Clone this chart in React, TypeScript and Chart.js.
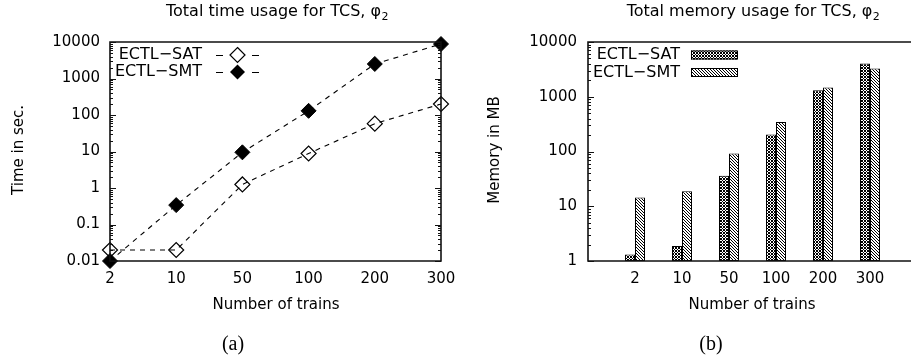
import React, { useEffect, useRef } from 'react';
import { Chart, registerables } from 'chart.js';

Chart.register(...registerables);

// ---------- data ----------
const trainCounts = ['2', '10', '50', '100', '200', '300'];
const seriesNames = ['ECTL\u2212SAT', 'ECTL\u2212SMT'];

const timeSAT = [0.02, 0.02, 1.25, 8.8, 58, 200];
const timeSMT = [0.01, 0.34, 9.5, 130, 2500, 8800];
const timeTicks = [0.01, 0.1, 1, 10, 100, 1000, 10000];
const timeTickLabels = ['0.01', '0.1', '1', '10', '100', '1000', '10000'];

const memSAT = [1.32, 1.88, 36, 205, 1320, 4050];
const memSMT = [14.5, 18.7, 92, 344, 1480, 3280];
const memTicks = [1, 10, 100, 1000, 10000];
const memTickLabels = ['1', '10', '100', '1000', '10000'];

const FONT = '"DejaVu Sans", "Liberation Sans", sans-serif';
const SERIF = '"Liberation Serif", "DejaVu Serif", serif';

type Deco = {
  title: string;
  titleX: number;
  yTitle: string;
  yTitleX: number;
  xTitleX: number;
  caption: string;
  captionX: number;
  ticks: number[];
  rightBorder: boolean;
  legend: (ctx: CanvasRenderingContext2D) => void;
};

function makePattern(ctx: CanvasRenderingContext2D, kind: 'cross' | 'diag') {
  const n = 3;
  const c = document.createElement('canvas');
  c.width = n;
  c.height = n;
  const g = c.getContext('2d')!;
  g.fillStyle = '#fff';
  g.fillRect(0, 0, n, n);
  g.fillStyle = '#000';
  for (let x = 0; x < n; x++) {
    for (let y = 0; y < n; y++) {
      const d1 = (((x - y) % n) + n) % n;
      const d2 = (x + y) % n;
      const on = kind === 'cross' ? d1 === 0 || d2 === 0 : d1 === 0;
      if (on) g.fillRect(x, y, 1, 1);
    }
  }
  return ctx.createPattern(c, 'repeat')!;
}

function drawDiamond(ctx: CanvasRenderingContext2D, x: number, y: number, r: number, filled: boolean) {
  ctx.beginPath();
  ctx.moveTo(x, y - r);
  ctx.lineTo(x + r, y);
  ctx.lineTo(x, y + r);
  ctx.lineTo(x - r, y);
  ctx.closePath();
  if (filled) {
    ctx.fillStyle = '#000';
    ctx.fill();
  } else {
    ctx.strokeStyle = '#000';
    ctx.lineWidth = 1.2;
    ctx.stroke();
  }
}

function decoPlugin(d: Deco) {
  return {
    id: 'deco',
    afterDatasetsDraw(chart: any) {
      const ctx: CanvasRenderingContext2D = chart.ctx;
      const a = chart.chartArea;
      const ys = chart.scales.y;
      ctx.save();
      // border
      ctx.strokeStyle = '#111';
      ctx.lineWidth = 1.6;
      ctx.setLineDash([]);
      ctx.beginPath();
      ctx.moveTo(a.left, a.top);
      ctx.lineTo(a.left, a.bottom);
      ctx.moveTo(a.left - 0.8, a.bottom);
      ctx.lineTo(a.right + 0.8, a.bottom);
      ctx.moveTo(a.left - 0.8, a.top);
      ctx.lineTo(a.right + 0.8, a.top);
      if (d.rightBorder) {
        ctx.moveTo(a.right, a.top);
        ctx.lineTo(a.right, a.bottom);
      }
      ctx.stroke();
      // ticks (inward), major and minor
      ctx.lineWidth = 1;
      ctx.beginPath();
      for (let i = 0; i < d.ticks.length; i++) {
        const v = d.ticks[i];
        const py = Math.round(ys.getPixelForValue(v)) + 0.5;
        ctx.moveTo(a.left, py);
        ctx.lineTo(a.left + 6, py);
        if (d.rightBorder) {
          ctx.moveTo(a.right, py);
          ctx.lineTo(a.right - 6, py);
        }
        if (i < d.ticks.length - 1) {
          for (let m = 2; m <= 9; m++) {
            const my = Math.round(ys.getPixelForValue(v * m)) + 0.5;
            ctx.moveTo(a.left, my);
            ctx.lineTo(a.left + 3, my);
            if (d.rightBorder) {
              ctx.moveTo(a.right, my);
              ctx.lineTo(a.right - 3, my);
            }
          }
        }
      }
      ctx.stroke();
      // title with subscript
      ctx.fillStyle = '#000';
      ctx.textBaseline = 'middle';
      ctx.textAlign = 'left';
      ctx.font = `16px ${FONT}`;
      const main = d.title;
      const wMain = ctx.measureText(main).width;
      ctx.font = `11px ${FONT}`;
      const wSub = ctx.measureText('2').width;
      const x0 = d.titleX - (wMain + wSub) / 2;
      ctx.font = `16px ${FONT}`;
      ctx.fillText(main, x0, 12);
      ctx.font = `11px ${FONT}`;
      ctx.fillText('2', x0 + wMain + 0.5, 17);
      // x title
      ctx.font = `15px ${FONT}`;
      ctx.textAlign = 'center';
      ctx.fillText('Number of trains', d.xTitleX, 305);
      // y title
      ctx.save();
      ctx.translate(d.yTitleX, 150);
      ctx.rotate(-Math.PI / 2);
      ctx.fillText(d.yTitle, 0, 0);
      ctx.restore();
      // caption
      ctx.font = `20px ${SERIF}`;
      ctx.fillText(d.caption, d.captionX, 345);
      // legend
      d.legend(ctx);
      ctx.restore();
    },
  };
}

function TimeChart() {
  const ref = useRef<HTMLCanvasElement>(null);
  useEffect(() => {
    const canvas = ref.current!;
    const deco: Deco = {
      title: 'Total time usage for TCS, \u03c6',
      titleX: 277,
      yTitle: 'Time in sec.',
      yTitleX: 19,
      xTitleX: 276,
      caption: '(a)',
      captionX: 233,
      ticks: timeTicks,
      rightBorder: true,
      legend: (ctx) => {
        ctx.font = `16px ${FONT}`;
        ctx.textAlign = 'right';
        ctx.textBaseline = 'middle';
        ctx.fillStyle = '#000';
        const rows = [55, 72];
        rows.forEach((ry, i) => {
          ctx.fillStyle = '#000';
          ctx.fillText(seriesNames[i], 202, ry);
          ctx.strokeStyle = '#000';
          ctx.lineWidth = 1;
          ctx.beginPath();
          ctx.moveTo(216, ry + 0.5);
          ctx.lineTo(223, ry + 0.5);
          ctx.moveTo(252, ry + 0.5);
          ctx.lineTo(259, ry + 0.5);
          ctx.stroke();
          drawDiamond(ctx, 237.5, ry, 7.5, i === 1);
        });
      },
    };
    const chart = new Chart(canvas, {
      type: 'line',
      data: {
        labels: trainCounts,
        datasets: [
          {
            label: seriesNames[0],
            data: timeSAT,
            borderColor: '#000',
            borderWidth: 1.1,
            borderDash: [5, 5],
            pointStyle: 'rectRot',
            pointRadius: 7.5,
            pointBorderWidth: 1.2,
            pointBackgroundColor: 'rgba(0,0,0,0)',
            pointBorderColor: '#000',
            tension: 0,
            clip: false as any,
          },
          {
            label: seriesNames[1],
            data: timeSMT,
            borderColor: '#000',
            borderWidth: 1.1,
            borderDash: [5, 5],
            pointStyle: 'rectRot',
            pointRadius: 7.5,
            pointBorderWidth: 1,
            pointBackgroundColor: '#000',
            pointBorderColor: '#000',
            tension: 0,
            clip: false as any,
          },
        ],
      },
      options: {
        animation: false,
        responsive: false,
        events: [],
        layout: { padding: { top: 42, right: 14, left: 0, bottom: 0 } },
        plugins: { legend: { display: false }, tooltip: { enabled: false }, title: { display: false } },
        scales: {
          x: {
            type: 'category',
            offset: false,
            grid: { display: false, drawTicks: false },
            border: { display: false },
            ticks: { color: '#000', font: { family: FONT, size: 15 }, padding: 9, autoSkip: false, maxRotation: 0 },
            afterFit: (s: any) => {
              s.height = 99;
              s.paddingLeft = 0;
              s.paddingRight = 0;
            },
          },
          y: {
            type: 'logarithmic',
            min: 0.01,
            max: 10000,
            grid: { display: false, drawTicks: false },
            border: { display: false },
            afterBuildTicks: (s: any) => {
              s.ticks = timeTicks.map((v) => ({ value: v, major: true }));
            },
            ticks: {
              color: '#000',
              font: { family: FONT, size: 15 },
              padding: 10,
              autoSkip: false,
              callback: (v: any) => {
                const i = timeTicks.indexOf(Number(v));
                return i >= 0 ? timeTickLabels[i] : '';
              },
            },
            afterFit: (s: any) => {
              s.width = 110;
              s.paddingTop = 0;
              s.paddingBottom = 0;
            },
          },
        },
      },
      plugins: [decoPlugin(deco)],
    } as any);
    return () => chart.destroy();
  }, []);
  return <canvas ref={ref} width={455} height={360} style={{ position: 'absolute', left: 0, top: 0, display: 'block' }} />;
}

function MemoryChart() {
  const ref = useRef<HTMLCanvasElement>(null);
  useEffect(() => {
    const canvas = ref.current!;
    const ctx = canvas.getContext('2d')!;
    const satPattern = makePattern(ctx, 'cross');
    const smtPattern = makePattern(ctx, 'diag');
    const deco: Deco = {
      title: 'Total memory usage for TCS, \u03c6',
      titleX: 753 - 455,
      yTitle: 'Memory in MB',
      yTitleX: 495 - 455,
      xTitleX: 752 - 455,
      caption: '(b)',
      captionX: 711 - 455,
      ticks: memTicks,
      rightBorder: false,
      legend: (c) => {
        c.font = `16px ${FONT}`;
        c.textAlign = 'right';
        c.textBaseline = 'middle';
        const rows = [55, 72.5];
        rows.forEach((ry, i) => {
          c.fillStyle = '#000';
          c.fillText(seriesNames[i], 680 - 455, ry);
          c.fillStyle = i === 0 ? satPattern : smtPattern;
          c.fillRect(691 - 455, ry - 4.5, 47, 9);
          c.strokeStyle = '#000';
          c.lineWidth = 1;
          c.strokeRect(691 - 455 + 0.5, ry - 4.5 + 0.5, 46, 8);
        });
      },
    };
    const labels = ['', ...trainCounts, ''];
    const chart = new Chart(canvas, {
      type: 'bar',
      data: {
        labels,
        datasets: [
          {
            label: seriesNames[0],
            data: [null, ...memSAT, null],
            backgroundColor: satPattern,
            borderColor: '#000',
            borderWidth: 1,
            borderSkipped: false,
            categoryPercentage: 20 / 47,
            barPercentage: 1,
          },
          {
            label: seriesNames[1],
            data: [null, ...memSMT, null],
            backgroundColor: smtPattern,
            borderColor: '#000',
            borderWidth: 1,
            borderSkipped: false,
            categoryPercentage: 20 / 47,
            barPercentage: 1,
          },
        ],
      },
      options: {
        animation: false,
        responsive: false,
        events: [],
        layout: { padding: { top: 42, right: 18, left: 0, bottom: 0 } },
        plugins: { legend: { display: false }, tooltip: { enabled: false }, title: { display: false } },
        scales: {
          x: {
            type: 'category',
            offset: false,
            grid: { display: false, drawTicks: false },
            border: { display: false },
            ticks: { color: '#000', font: { family: FONT, size: 15 }, padding: 9, autoSkip: false, maxRotation: 0 },
            afterFit: (s: any) => {
              s.height = 99;
              s.paddingLeft = 0;
              s.paddingRight = 0;
            },
          },
          y: {
            type: 'logarithmic',
            min: 1,
            max: 10000,
            grid: { display: false, drawTicks: false },
            border: { display: false },
            afterBuildTicks: (s: any) => {
              s.ticks = memTicks.map((v) => ({ value: v, major: true }));
            },
            ticks: {
              color: '#000',
              font: { family: FONT, size: 15 },
              padding: 11,
              autoSkip: false,
              callback: (v: any) => {
                const i = memTicks.indexOf(Number(v));
                return i >= 0 ? memTickLabels[i] : '';
              },
            },
            afterFit: (s: any) => {
              s.width = 133;
              s.paddingTop = 0;
              s.paddingBottom = 0;
            },
          },
        },
      },
      plugins: [decoPlugin(deco)],
    } as any);
    return () => chart.destroy();
  }, []);
  return <canvas ref={ref} width={480} height={360} style={{ position: 'absolute', left: 455, top: 0, display: 'block' }} />;
}

export default function App() {
  return (
    <div
      style={{
        position: 'fixed',
        left: 0,
        top: 0,
        width: 911,
        height: 360,
        overflow: 'hidden',
        background: '#fff',
      }}
    >
      <TimeChart />
      <MemoryChart />
    </div>
  );
}
